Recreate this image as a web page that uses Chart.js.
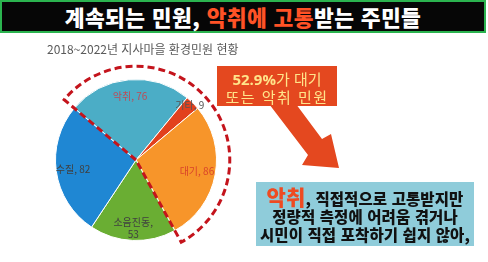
<!DOCTYPE html>
<html lang="ko">
<head>
<meta charset="utf-8">
<title>지사마을 환경민원 현황</title>
<script src="https://cdn.jsdelivr.net/npm/chart.js@4.4.1/dist/chart.umd.min.js"></script>
<style>
  html, body { margin: 0; padding: 0; background: #ffffff; }
  body { width: 488px; height: 262px; position: relative; overflow: hidden;
         font-family: "Noto Sans CJK KR", "Noto Sans", sans-serif; }
  #pie { position: absolute; left: 0; top: 0; }
  .banner { position: absolute; left: 0; top: 0; width: 482px; height: 29px;
            background: #060606; border: 2px solid #2bb34f;
            color: #ffffff; font-weight: 900; font-size: 21.5px; line-height: 29px;
            text-align: center; letter-spacing: 0.4px; white-space: nowrap; }
  .banner .hot { color: #ff5226; }
  .subtitle { position: absolute; left: 47px; top: 41px; font-size: 12px; color: #595959;
              line-height: 16px; letter-spacing: 0; white-space: nowrap; }
  .callout { position: absolute; left: 217px; top: 66px; width: 120px; height: 40px;
             background: #e4481f; color: #ffe48a; text-align: center;
             font-size: 15px; line-height: 17px; padding-top: 4px; box-sizing: border-box; }
  .callout b { font-family: "Open Sans", "Noto Sans", sans-serif; font-weight: 700; }
  .callout .wide { letter-spacing: 1.5px; }
  #arrow { position: absolute; left: 0; top: 0; }
  .note { position: absolute; left: 256px; top: 182px; width: 218px; height: 64px;
          background: #8fccda; color: #111111; text-align: center; font-weight: 900;
          font-size: 15.5px; line-height: 18px; box-sizing: border-box; padding-top: 5px;
          letter-spacing: 0.1px; white-space: nowrap; }
  .note .big { color: #ee4b22; font-size: 21px; font-weight: 900; }
</style>
</head>
<body>
<canvas id="pie" width="488" height="262"></canvas>

<div class="banner">계속되는 민원, <span class="hot">악취에 고통</span>받는 주민들</div>
<div class="subtitle">2018~2022년 지사마을 환경민원 현황</div>

<svg id="arrow" width="488" height="262" viewBox="0 0 488 262">
  <polygon points="266,100 293,100 322,139 331,134 339,168 302,165 308,155" fill="#e4481f"/>
</svg>
<div class="callout"><b>52.9%</b>가 대기<br><span class="wide">또는 악취 민원</span></div>

<div class="note"><span class="big">악취</span>, 직접적으로 고통받지만<br>정량적 측정에 어려움 겪거나<br>시민이 직접 포착하기 쉽지 않아,</div>

<script>
// Complaint categories and counts, 2018–2022
const categories = ['악취', '기타', '대기', '소음진동', '수질'];
const values = [76, 9, 86, 53, 82];

// Slice and label styling
const sliceColors = ['#4badc6', '#e2411d', '#f7952a', '#6aae33', '#1f87d3'];
const labelColors = ['#bf4a55', '#555555', '#d9432a', '#404040', '#404040'];
const labelRadius = [0.80, 0.95, 0.77, 0.85, 0.79];
const labelWrap = [false, false, false, true, false];

// Categories enclosed by the dashed highlight (odour + air)
const highlighted = ['악취', '기타', '대기'];

const sliceLabels = {
  id: 'sliceLabels',
  afterDatasetsDraw(chart) {
    const ctx = chart.ctx;
    const meta = chart.getDatasetMeta(0);
    ctx.save();
    ctx.font = '10px "Noto Sans CJK KR", sans-serif';
    ctx.textAlign = 'center';
    ctx.textBaseline = 'middle';
    meta.data.forEach((arc, i) => {
      const p = arc.getProps(['x', 'y', 'startAngle', 'endAngle', 'outerRadius'], true);
      const mid = (p.startAngle + p.endAngle) / 2;
      const r = p.outerRadius * labelRadius[i];
      const cx = p.x + Math.cos(mid) * r;
      const cy = p.y + Math.sin(mid) * r;
      const lines = labelWrap[i]
        ? [categories[i] + ',', String(values[i])]
        : [categories[i] + ', ' + values[i]];
      ctx.fillStyle = labelColors[i];
      const lh = 12;
      lines.forEach((t, k) => {
        ctx.fillText(t, cx, cy + (k - (lines.length - 1) / 2) * lh);
      });
    });
    ctx.restore();
  }
};

const highlightOutline = {
  id: 'highlightOutline',
  afterDatasetsDraw(chart) {
    const ctx = chart.ctx;
    const meta = chart.getDatasetMeta(0);
    const idx = highlighted.map(c => categories.indexOf(c));
    const first = meta.data[Math.min(...idx)].getProps(['x', 'y', 'startAngle', 'outerRadius'], true);
    const last = meta.data[Math.max(...idx)].getProps(['endAngle'], true);
    const R = first.outerRadius * 1.165;
    ctx.save();
    ctx.strokeStyle = '#c4141c';
    ctx.lineWidth = 3;
    ctx.setLineDash([7, 4]);
    ctx.beginPath();
    ctx.moveTo(first.x, first.y);
    ctx.lineTo(first.x + Math.cos(first.startAngle) * R, first.y + Math.sin(first.startAngle) * R);
    ctx.arc(first.x, first.y, R, first.startAngle, last.endAngle);
    ctx.closePath();
    ctx.stroke();
    ctx.restore();
  }
};

new Chart(document.getElementById('pie'), {
  type: 'pie',
  data: {
    labels: categories,
    datasets: [{
      data: values,
      backgroundColor: sliceColors,
      borderColor: '#ffffff',
      borderWidth: 1
    }]
  },
  options: {
    responsive: false,
    animation: false,
    rotation: -50,
    layout: { padding: { left: 55, top: 79, right: 271, bottom: 21 } },
    plugins: { legend: { display: false }, tooltip: { enabled: false } }
  },
  plugins: [sliceLabels, highlightOutline]
});
</script>
</body>
</html>
